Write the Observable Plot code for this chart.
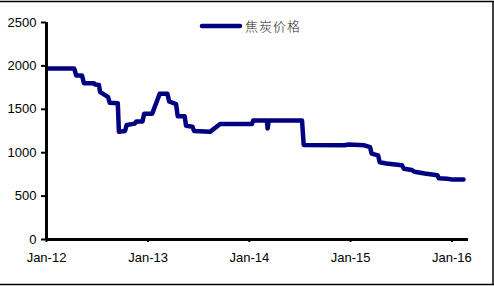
<!DOCTYPE html>
<html><head><meta charset="utf-8">
<script src="https://cdn.jsdelivr.net/npm/d3@7"></script>
<script src="https://cdn.jsdelivr.net/npm/@observablehq/plot@0.6"></script>
<style>body{margin:0;background:#fff} #chart{width:494px;height:286px}</style>
</head><body><div id="chart"></div>
<script>
const seriesName = "焦炭价格";
const dates = [
"2012-01-06","2012-04-10","2012-04-17","2012-05-08","2012-05-15","2012-06-20","2012-06-25","2012-07-08","2012-07-12","2012-08-10","2012-08-16","2012-09-14","2012-09-18","2012-10-10","2012-10-16","2012-11-14","2012-11-20","2012-12-12","2012-12-18","2013-01-16","2013-02-12","2013-03-12","2013-03-18","2013-04-12","2013-04-18","2013-05-13","2013-05-18","2013-06-10","2013-06-16","2013-08-12","2013-09-18","2014-01-10","2014-01-15","2014-03-05","2014-03-08","2014-03-12","2014-07-10","2014-07-16","2014-12-10","2014-12-25","2015-02-20","2015-03-12","2015-03-18","2015-04-10","2015-04-16","2015-05-10","2015-07-05","2015-07-12","2015-08-10","2015-08-20","2015-09-25","2015-11-10","2015-11-15","2015-12-15","2016-01-05","2016-02-12"];
const prices = [
1970,1970,1890,1890,1800,1800,1785,1780,1700,1640,1575,1570,1240,1250,1320,1335,1360,1360,1450,1450,1680,1680,1590,1560,1420,1420,1310,1300,1250,1240,1330,1330,1370,1370,1280,1370,1370,1090,1085,1095,1085,1065,990,970,890,875,855,815,800,780,760,740,705,700,690,690];
const yTicks = [0, 500, 1000, 1500, 2000, 2500];
const xTicks = ["2012-01-01","2013-01-01","2014-01-01","2015-01-01","2016-01-01"];
const xTickLabels = ["Jan-12","Jan-13","Jan-14","Jan-15","Jan-16"];
const xStart = "2012-01-01", xEnd = "2016-03-01";

const data = dates.map((d, i) => ({date: new Date(d), price: prices[i]}));
const xDomain = [new Date(xStart), new Date(xEnd)];
const labelMap = new Map(xTicks.map((d, i) => [+new Date(d), xTickLabels[i]]));

const plot = Plot.plot({
  width: 494, height: 286,
  marginLeft: 46, marginRight: 26, marginTop: 22, marginBottom: 47,
  style: {fontFamily: "'Liberation Sans', Arial, sans-serif", fontSize: "13px", color: "#000", background: "#fff"},
  x: {type: "utc", domain: xDomain},
  y: {domain: [0, 2500]},
  marks: [
    Plot.axisY({ticks: yTicks, tickSize: 5, tickPadding: 5, strokeWidth: 2, label: null, tickFormat: d => String(d)}),
    Plot.axisX({ticks: xTicks.map(d => new Date(d)), tickSize: 3, tickPadding: 10, strokeWidth: 2, label: null, tickFormat: d => labelMap.get(+d)}),
    Plot.line(data, {x: "date", y: "price", stroke: "#000080", strokeWidth: 4.5, strokeLinejoin: "round", strokeLinecap: "round"}),
    Plot.ruleX([xDomain[0]], {stroke: "#000", strokeWidth: 3}),
    Plot.ruleY([0], {stroke: "#000", strokeWidth: 3})
  ]
});
document.getElementById("chart").appendChild(plot);

const svg = d3.select(plot);
// frame lines (top, right, bottom)
svg.append("line").attr("x1", 0).attr("x2", 494).attr("y1", 1.5).attr("y2", 1.5).attr("stroke", "#000").attr("stroke-width", 1.5);
svg.append("line").attr("x1", 493).attr("x2", 493).attr("y1", 1).attr("y2", 285).attr("stroke", "#000").attr("stroke-width", 1.5);
svg.append("line").attr("x1", 0).attr("x2", 494).attr("y1", 284.5).attr("y2", 284.5).attr("stroke", "#000").attr("stroke-width", 1.5);
// legend
const lg = svg.append("g");
lg.append("line").attr("x1", 202).attr("x2", 240).attr("y1", 26).attr("y2", 26).attr("stroke", "#000080").attr("stroke-width", 4.5).attr("stroke-linecap", "round");
lg.append("text").attr("x", 245).attr("y", 26).attr("dy", "0.35em").attr("fill", "#222")
  .attr("text-anchor", "start")
  .style("font-family", "'Noto Sans CJK SC', sans-serif").style("font-size", "13px").style("font-weight", 300)
  .style("letter-spacing", "1px").text(seriesName);
</script>
</body></html>
